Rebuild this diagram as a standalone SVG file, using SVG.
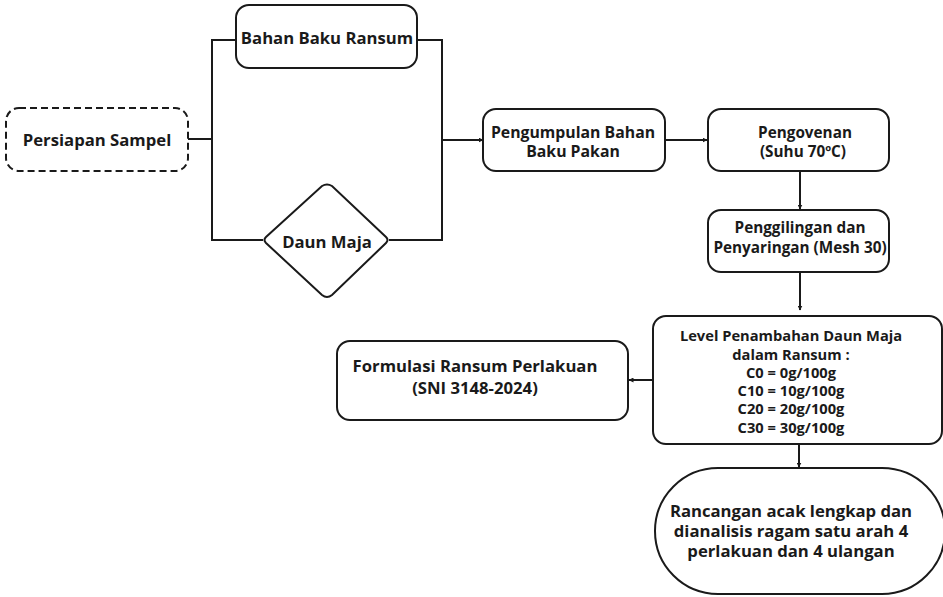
<svg xmlns="http://www.w3.org/2000/svg" width="943" height="597" viewBox="0 0 943 597">
<defs>
<style>
.box{fill:#fff;stroke:#1a1a1a;stroke-width:2}
.dash{stroke-dasharray:7 4}
.t{font-family:"Open Sans","DejaVu Sans",sans-serif;font-weight:bold;font-size:15.3px;fill:#1a1a1a;text-anchor:middle;dominant-baseline:central}
.l{font-size:16.7px}
.s{font-size:14.7px}
.ln{fill:none;stroke:#1a1a1a;stroke-width:2}
</style>
<marker id="ah" viewBox="0 0 10 10" refX="9" refY="5" markerWidth="5" markerHeight="5" orient="auto" markerUnits="userSpaceOnUse">
<path d="M0,0 L10,5 L0,10 z" fill="#1a1a1a"/>
</marker>
</defs>
<rect width="943" height="597" fill="#fff"/>
<g id="connectors">
<polyline class="ln" points="188,139 212,139"/>
<polyline class="ln" points="236,40 212,40 212,240 263,240"/>
<polyline class="ln" points="417,40 442,40 442,240 389,240"/>
<line class="ln" x1="442" y1="140" x2="483" y2="140" marker-end="url(#ah)"/>
<line class="ln" x1="665" y1="140" x2="707" y2="140" marker-end="url(#ah)"/>
<line class="ln" x1="800" y1="171" x2="800" y2="209" marker-end="url(#ah)"/>
<line class="ln" x1="800" y1="272" x2="800" y2="310" marker-end="url(#ah)"/>
<line class="ln" x1="653" y1="380" x2="629" y2="380" marker-end="url(#ah)"/>
<line class="ln" x1="799" y1="444" x2="799" y2="467" marker-end="url(#ah)"/>
</g>
<g id="persiapan">
<rect class="box dash" x="6" y="108" width="182" height="63" rx="13"/>
<text class="t l" x="97" y="139">Persiapan Sampel</text>
</g>
<g id="bahan-baku-ransum">
<rect class="box" x="236" y="5" width="181" height="63" rx="13"/>
<text class="t l" x="327" y="37">Bahan Baku Ransum</text>
</g>
<g id="daun-maja">
<path class="box" d="M322,186 Q327,183 332,186 L386,237 Q389,240 386,243 L332,295 Q327,299 322,295 L266,243 Q263,240 266,237 Z"/>
<text class="t l" x="327" y="241">Daun Maja</text>
</g>
<g id="pengumpulan">
<rect class="box" x="483" y="109" width="182" height="62" rx="13"/>
<text class="t" x="573" y="132" style="font-size:15.8px">Pengumpulan Bahan</text>
<text class="t" x="573" y="151" style="font-size:15.8px">Baku Pakan</text>
</g>
<g id="pengovenan">
<rect class="box" x="708" y="109" width="181" height="62" rx="13"/>
<text class="t" x="805" y="132">Pengovenan</text>
<text class="t" x="803" y="151">(Suhu 70ºC)</text>
</g>
<g id="penggilingan">
<rect class="box" x="708" y="210" width="181" height="62" rx="13"/>
<text class="t" x="800" y="227">Penggilingan dan</text>
<text class="t" x="800" y="247">Penyaringan (Mesh 30)</text>
</g>
<g id="level">
<rect class="box" x="653" y="316" width="289" height="128" rx="13"/>
<text class="t s" x="791" y="335">Level Penambahan Daun Maja</text>
<text class="t s" x="791" y="354">dalam Ransum :</text>
<text class="t s" x="791" y="372">C0 = 0g/100g</text>
<text class="t s" x="791" y="390">C10 = 10g/100g</text>
<text class="t s" x="791" y="408">C20 = 20g/100g</text>
<text class="t s" x="791" y="427">C30 = 30g/100g</text>
</g>
<g id="formulasi">
<rect class="box" x="337" y="341" width="291" height="79" rx="13"/>
<text class="t l" x="475" y="365">Formulasi Ransum Perlakuan</text>
<text class="t l" x="475" y="387">(SNI 3148-2024)</text>
</g>
<g id="rancangan">
<rect class="box" x="655" y="468" width="290" height="126" rx="63"/>
<text class="t l" x="791" y="510">Rancangan acak lengkap dan</text>
<text class="t l" x="791" y="530">dianalisis ragam satu arah 4</text>
<text class="t l" x="791" y="550">perlakuan dan 4 ulangan</text>
</g>
</svg>
